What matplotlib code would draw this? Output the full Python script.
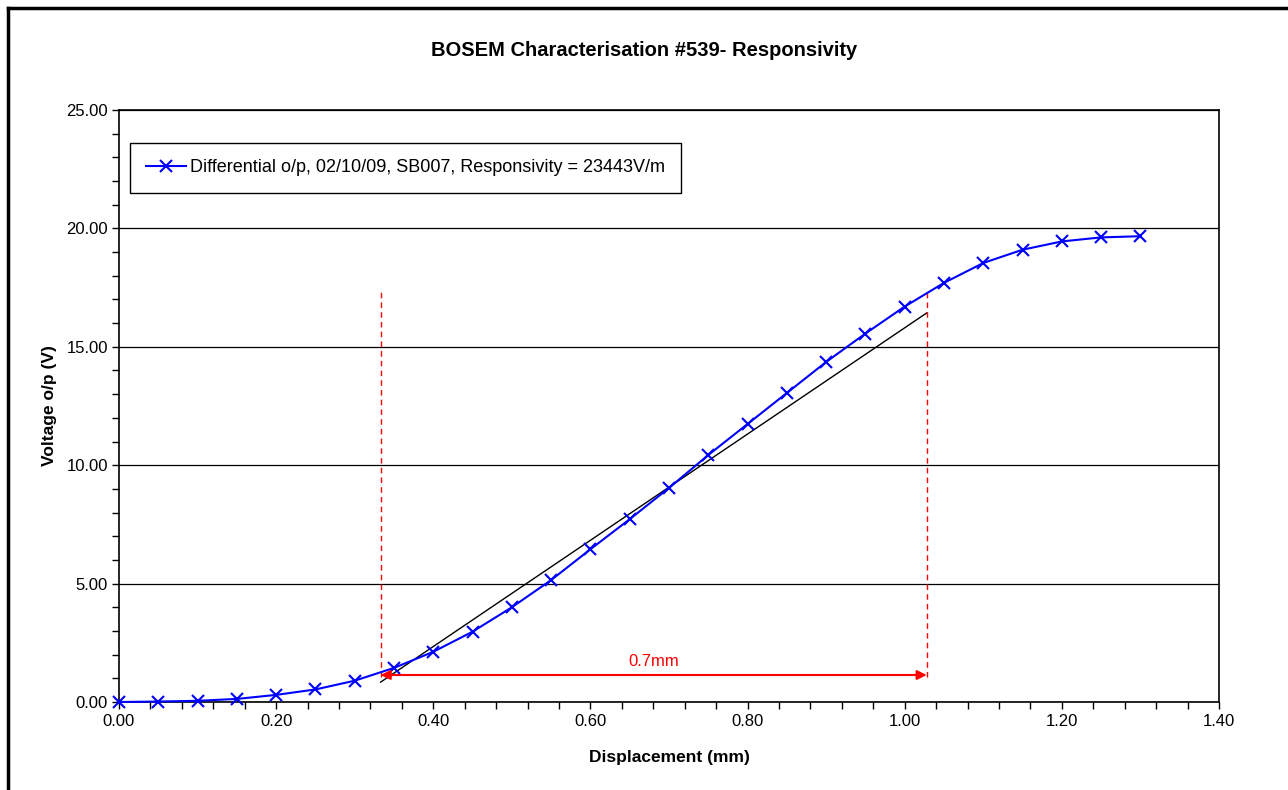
import matplotlib.pyplot as plt
from matplotlib.lines import Line2D
from matplotlib.ticker import MultipleLocator, FormatStrFormatter

plt.rcParams['font.family'] = ['Liberation Sans', 'DejaVu Sans']

# displacement (mm) and differential output (V)
disp = [0.00, 0.05, 0.10, 0.15, 0.20, 0.25, 0.30, 0.35, 0.40, 0.45, 0.50,
        0.55, 0.60, 0.65, 0.70, 0.75, 0.80, 0.85, 0.90, 0.95, 1.00, 1.05,
        1.10, 1.15, 1.20, 1.25, 1.30]
volts = [0.00, 0.02, 0.05, 0.13, 0.30, 0.53, 0.90, 1.44, 2.12, 2.97, 4.00,
         5.15, 6.45, 7.72, 9.04, 10.43, 11.74, 13.05, 14.36, 15.56, 16.70, 17.70,
         18.54, 19.10, 19.45, 19.62, 19.67]

# linear fit segment
fit_x = [0.333, 1.028]
fit_y = [0.84, 16.43]

# range markers
range_x = [0.333, 1.028]
range_top = 17.4
arrow_y = 1.14
range_label = '0.7mm'

series_label = 'Differential o/p, 02/10/09, SB007, Responsivity = 23443V/m'

fig = plt.figure(figsize=(12.88, 7.90), dpi=100)
ax = fig.add_axes([119/1288, 1 - 702/790, 1100/1288, 592/790])

ax.plot(disp, volts, color='#0000ff', lw=1.5, marker='x', ms=8, mew=1.5,
        label=series_label, zorder=4, clip_on=False)
ax.plot(fit_x, fit_y, color='black', lw=1, zorder=3)

for rx in range_x:
    ax.plot([rx, rx], [arrow_y - 0.1, range_top], color='red', lw=1,
            ls=(0, (4, 3)), zorder=3)
ax.annotate('', xy=(range_x[0], arrow_y), xytext=(range_x[1], arrow_y),
            arrowprops=dict(arrowstyle='<|-|>', color='red', lw=1.5,
                            mutation_scale=14, shrinkA=0, shrinkB=0), zorder=5)
ax.text(sum(range_x) / 2, arrow_y + 0.25, range_label, color='red',
        fontsize=12, ha='center', va='bottom')

ax.set_xlim(0, 1.4)
ax.set_ylim(0, 25)
ax.xaxis.set_major_locator(MultipleLocator(0.2))
ax.xaxis.set_minor_locator(MultipleLocator(0.04))
ax.yaxis.set_major_locator(MultipleLocator(5))
ax.yaxis.set_minor_locator(MultipleLocator(1))
ax.xaxis.set_major_formatter(FormatStrFormatter('%.2f'))
ax.yaxis.set_major_formatter(FormatStrFormatter('%.2f'))
ax.tick_params(which='both', direction='out', labelsize=12, width=1)
ax.tick_params(which='major', length=5)
ax.tick_params(which='minor', length=5)
ax.tick_params(axis='x', which='major', pad=4)
ax.tick_params(axis='y', which='major', pad=3)
ax.grid(axis='y', which='major', color='black', lw=0.9)
ax.set_axisbelow(True)
for s in ax.spines.values():
    s.set_linewidth(1.2)

ax.set_xlabel('Displacement (mm)', fontsize=12.5, fontweight='bold', labelpad=15)
ax.set_ylabel('Voltage o/p (V)', fontsize=12.5, fontweight='bold', labelpad=7)
fig.text(0.5, 1 - 51/790, 'BOSEM Characterisation #539- Responsivity',
         fontsize=14.5, fontweight='bold', ha='center', va='center')

leg = ax.legend(loc='upper left', bbox_to_anchor=(11/1100, 1 - 33/592),
                fontsize=13, fancybox=False, framealpha=1, edgecolor='black',
                borderpad=0.9, handlelength=2.2, handletextpad=0.2,
                borderaxespad=0)
leg.get_frame().set_linewidth(1)

# outer chart border (top and left edges visible)
fig.add_artist(Line2D([8/1288, 1], [1 - 8/790, 1 - 8/790], color='black', lw=2.5))
fig.add_artist(Line2D([8/1288, 8/1288], [0, 1 - 8/790], color='black', lw=2.5))

fig.savefig('out.png', dpi=100)
